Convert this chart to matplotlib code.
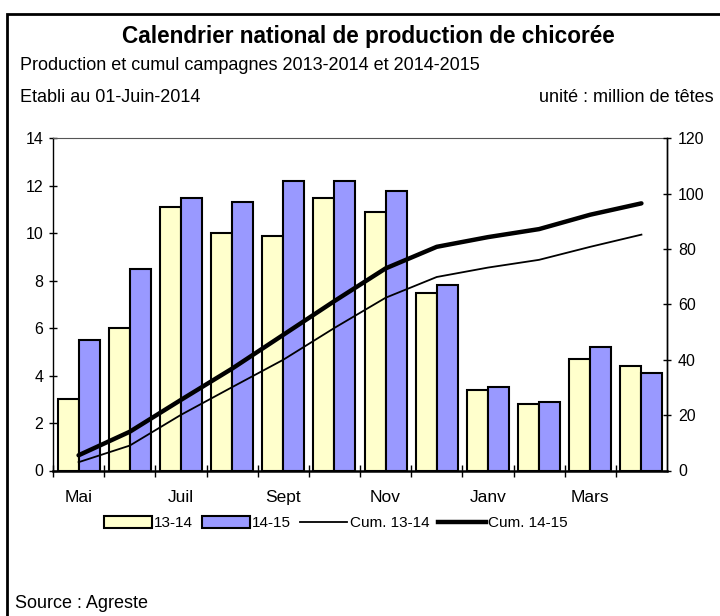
import numpy as np
import matplotlib.pyplot as plt
from matplotlib.patches import Rectangle, Patch
from matplotlib.lines import Line2D

plt.rcParams['font.family'] = ['Liberation Sans', 'DejaVu Sans']

months = ['Mai', 'Juin', 'Juil', 'Août', 'Sept', 'Oct', 'Nov', 'Déc', 'Janv', 'Févr', 'Mars', 'Avr']
month_labels = ['Mai', '', 'Juil', '', 'Sept', '', 'Nov', '', 'Janv', '', 'Mars', '']
prod_1314 = [3.0, 6.0, 11.1, 10.0, 9.9, 11.5, 10.9, 7.5, 3.4, 2.8, 4.7, 4.4]
prod_1415 = [5.5, 8.5, 11.5, 11.3, 12.2, 12.2, 11.8, 7.8, 3.5, 2.9, 5.2, 4.1]
cum_1314 = [3.0, 9.0, 20.1, 30.1, 40.0, 51.5, 62.4, 69.9, 73.3, 76.1, 80.8, 85.2]
cum_1415 = [5.5, 14.0, 25.5, 36.8, 49.0, 61.2, 73.0, 80.8, 84.3, 87.2, 92.4, 96.5]

yellow = '#FFFFCC'
blue = '#9999FF'


def main():
    fig = plt.figure(figsize=(7.2, 6.16), dpi=100)
    ax = fig.add_axes([53 / 720, 1 - 470.5 / 616, 614 / 720, 332.2 / 616])

    x = np.arange(len(months))
    w = 0.41
    ax.bar(x - w / 2, prod_1314, w, color=yellow, edgecolor='black', linewidth=1.5, zorder=2)
    ax.bar(x + w / 2, prod_1415, w, color=blue, edgecolor='black', linewidth=1.5, zorder=2)
    ax.set_xlim(-0.5, 11.5)
    ax.set_ylim(0, 14)
    ax.set_yticks(np.arange(0, 15, 2))
    ax.set_xticks(x - 0.5, minor=False)
    ax.set_xticklabels([])
    ax.set_xticks(x, minor=True)
    ax.set_xticklabels(month_labels, minor=True)
    ax.tick_params(axis='x', which='major', direction='inout', length=8, width=1)
    ax.tick_params(axis='x', which='minor', length=0, pad=14, labelsize=12.5)
    ax.tick_params(axis='y', direction='inout', length=6, width=1, labelsize=11.5, pad=4)
    ax.spines['top'].set_color('#555555')
    ax.spines['top'].set_linewidth(0.8)
    ax.spines['bottom'].set_linewidth(1.8)
    for s in ['left', 'right']:
        ax.spines[s].set_linewidth(1.0)

    ax2 = ax.twinx()
    ax2.plot(x, cum_1314, color='black', linewidth=1.3, zorder=3)
    ax2.plot(x, cum_1415, color='black', linewidth=3.2, zorder=3, solid_capstyle='round')
    ax2.set_ylim(0, 120)
    ax2.set_yticks(np.arange(0, 121, 20))
    ax2.tick_params(axis='y', direction='inout', length=6, width=1, labelsize=11.5, pad=5)
    for s in ax2.spines.values():
        s.set_visible(False)
    ax2.spines['right'].set_visible(True)
    ax2.spines['right'].set_linewidth(1.0)

    fig.text(368 / 720, 1 - 37 / 616, 'Calendrier national de production de chicorée',
             ha='center', va='center', fontsize=16.3, fontweight='bold')
    fig.text(20 / 720, 1 - 66 / 616, 'Production et cumul campagnes 2013-2014 et 2014-2015',
             ha='left', va='center', fontsize=13)
    fig.text(20 / 720, 1 - 97 / 616, 'Etabli au 01-Juin-2014', ha='left', va='center', fontsize=13)
    fig.text(714 / 720, 1 - 97 / 616, 'unité : million de têtes', ha='right', va='center', fontsize=13)
    fig.text(15 / 720, 1 - 604 / 616, 'Source : Agreste', ha='left', va='center', fontsize=13)

    handles = [Patch(facecolor=yellow, edgecolor='black', linewidth=1.5),
               Patch(facecolor=blue, edgecolor='black', linewidth=1.5),
               Line2D([], [], color='black', linewidth=1.3),
               Line2D([], [], color='black', linewidth=3.2)]
    fig.legend(handles, ['13-14', '14-15', 'Cum. 13-14', 'Cum. 14-15'],
               loc='center', bbox_to_anchor=(336 / 720, 1 - 523 / 616), ncol=4,
               frameon=False, fontsize=11, handlelength=3.1, handleheight=0.9,
               handletextpad=0.15, columnspacing=0.6)

    fig.patches.append(Rectangle((7 / 720, -0.1), 1.2, 1.1 - 14 / 616, transform=fig.transFigure,
                                 fill=False, edgecolor='black', linewidth=2))

    fig.savefig('out.png', dpi=100)


if __name__ == "__main__":
    main()
